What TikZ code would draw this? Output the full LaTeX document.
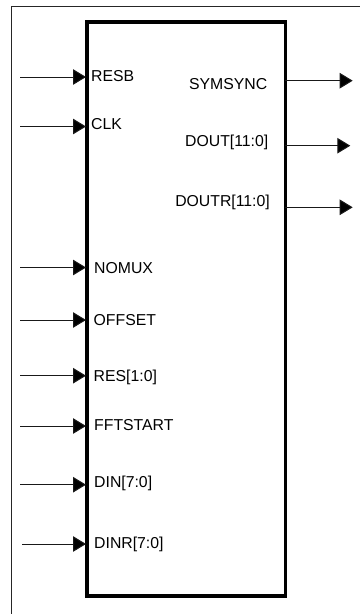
\documentclass[tikz,border=0pt]{standalone}
\usepackage{fontspec}
\setmainfont{Liberation Sans}
\usetikzlibrary{arrows.meta}
\tikzset{
  x=1pt,y=-1pt,
  block/.style={draw=black,line width=3.6pt,outer sep=0pt,minimum width=198.4pt,minimum height=574pt,inner sep=0pt,anchor=north west},
  frameline/.style={draw=black!85,line width=1pt},
  sig/.style={draw=black!90,line width=1pt,-{Triangle[length=13pt,width=15.5pt,fill=black]}},
  sigin/.style={sig,shorten >=1pt},
  pin/.style={inner sep=0pt,anchor=base west,font=\fontsize{15.8}{17}\selectfont,text=black},
  pinr/.style={inner sep=0pt,anchor=base east,font=\fontsize{15.8}{17}\selectfont,text=black}
}
\begin{document}
\begin{tikzpicture}
\useasboundingbox (0,0) rectangle (360,614);
\coordinate (fa) at (11.5,614);
\coordinate (fb) at (11.5,6.5);
\coordinate (fc) at (360,6.5);
\draw[frameline] (fa) -- (fb) -- (fc);
\node[block] (ic) at (87,21.7) {};
% input pins
\coordinate (i1) at (20,77);
\coordinate (i2) at (20,126.5);
\coordinate (i3) at (20,267.5);
\coordinate (i4) at (20,320);
\coordinate (i5) at (20,375.7);
\coordinate (i6) at (20,426);
\coordinate (i7) at (20,484.7);
\coordinate (i8) at (22,544);
\foreach \n in {1,...,8}{
  \draw[sigin] (i\n) -- (i\n -| ic.west);
}
% output pins
\coordinate (o1) at (352.7,80.7);
\coordinate (o2) at (350.3,145.7);
\coordinate (o3) at (352.7,207.3);
\foreach \n in {1,2,3}{
  \draw[sig] (o\n -| ic.east) -- (o\n);
}
\node[pin] (l1) at (91,81.7) {RESB};
\node[pin] (l2) at (91,129) {CLK};
\node[pin] (l3) at (94,273) {NOMUX};
\node[pin] (l4) at (93.5,325) {OFFSET};
\node[pin] (l5) at (93.5,381) {RES[1:0]};
\node[pin] (l6) at (94,430.7) {FFTSTART};
\node[pin] (l7) at (94,487.7) {DIN[7:0]};
\node[pin] (l8) at (94,548) {DINR[7:0]};
\node[pinr] (r1) at (267.5,89.3) {SYMSYNC};
\node[pinr] (r2) at (268.5,146.5) {DOUT[11:0]};
\node[pinr] (r3) at (270,206.5) {DOUTR[11:0]};
\end{tikzpicture}
\end{document}
